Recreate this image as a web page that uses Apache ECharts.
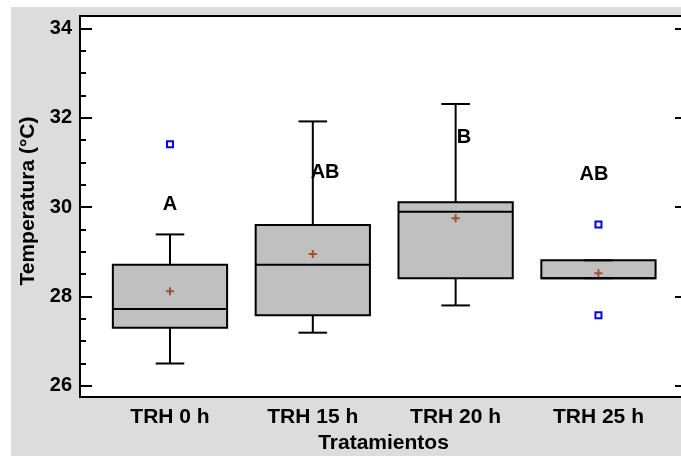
<!DOCTYPE html>
<html>
<head>
<meta charset="utf-8">
<script src="https://cdn.jsdelivr.net/npm/echarts@6/dist/echarts.min.js"></script>
<style>
    html, body { margin: 0; padding: 0; background: #fff; }
    #chart { width: 681px; height: 456px; }
</style>
</head>
<body>
<div id="chart"></div>
<script>
    // box statistics per treatment
    const categories = ['TRH 0 h', 'TRH 15 h', 'TRH 20 h', 'TRH 25 h'];
    const whiskerLow = [26.5, 27.19, 27.8, 28.41];
    const q1 = [27.3, 27.58, 28.41, 28.41];
    const median = [27.72, 28.71, 29.9, 28.41];
    const q3 = [28.71, 29.6, 30.11, 28.81];
    const whiskerHigh = [29.39, 31.92, 32.31, 28.81];
    const means = [28.12, 28.95, 29.75, 28.52];
    const outliers = [[1, 31.41], [4, 29.61], [4, 27.58]];

    // significance letters
    const groupLetters = ['A', 'AB', 'B', 'AB'];
    const letterX = [1.0, 2.086, 3.059, 3.969];
    const letterY = [30.07, 30.77, 31.55, 30.73];

    // y ticks
    const majorTicks = [26, 28, 30, 32, 34];
    const minorTicks = [26.5, 27, 27.5, 28.5, 29, 29.5, 30.5, 31, 31.5, 32.5, 33, 33.5];

    const FONT = '"Liberation Sans", Arial, sans-serif';
    const txt = { fontFamily: FONT, fontWeight: 'bold', fontSize: 20, color: '#000' };
    const txtBig = Object.assign({}, txt, { fontSize: 21 });
    const black2 = { color: '#000', width: 2 };

    const boxData = categories.map((c, i) => [i + 1, whiskerLow[i], q1[i], median[i], q3[i], whiskerHigh[i]]);
    const meanData = means.map((m, i) => [i + 1, m]);
    const letterData = groupLetters.map((l, i) => [letterX[i], letterY[i]]);

    function renderBox(params, api) {
        const x = api.value(0);
        const p = (k) => api.coord([x, api.value(k)]);
        const lo = p(1), b1 = p(2), md = p(3), b3 = p(4), hi = p(5);
        const halfBox = api.size([0.8, 0])[0] / 2;
        const halfCap = api.size([0.2, 0])[0] / 2;
        const cx = lo[0];
        const st = { stroke: '#000', lineWidth: 2 };
        const line = (x1, y1, x2, y2) => ({ type: 'line', shape: { x1, y1, x2, y2 }, style: st });
        return {
            type: 'group',
            children: [
                line(cx, hi[1], cx, b3[1]),
                line(cx, b1[1], cx, lo[1]),
                {
                    type: 'rect',
                    shape: { x: cx - halfBox, y: b3[1], width: 2 * halfBox, height: b1[1] - b3[1] },
                    style: { fill: '#c0c0c0', stroke: '#000', lineWidth: 2 }
                },
                line(cx - halfBox, md[1], cx + halfBox, md[1]),
                line(cx - halfCap, hi[1], cx + halfCap, hi[1]),
                line(cx - halfCap, lo[1], cx + halfCap, lo[1])
            ]
        };
    }

    function renderLetter(params, api) {
        const pt = api.coord([api.value(0), api.value(1)]);
        return {
            type: 'text',
            x: pt[0],
            y: pt[1],
            style: {
                text: groupLetters[params.dataIndex],
                fontFamily: FONT, fontWeight: 'bold', fontSize: 20,
                fill: '#000', align: 'center', verticalAlign: 'middle'
            }
        };
    }

    const yBase = {
        type: 'value', min: 25.75, max: 34.28,
        splitLine: { show: false }, axisLine: { show: false }
    };

    const chart = echarts.init(document.getElementById('chart'));
    chart.setOption({
        animation: false,
        graphic: [{
            type: 'rect', z: -10, silent: true,
            shape: { x: 11, y: 7, width: 670, height: 449 },
            style: { fill: '#dcdcdc' }
        }],
        grid: {
            left: 80, top: 16, width: 607, height: 381,
            show: true, backgroundColor: '#fff', borderColor: '#000', borderWidth: 2,
            containLabel: false, outerBoundsMode: 'none'
        },
        xAxis: {
            type: 'value', min: 0.37, max: 4.62,
            splitLine: { show: false }, axisLine: { show: false }, axisTick: { show: false },
            axisLabel: Object.assign({
                customValues: [1, 2, 3, 4],
                formatter: (v) => Number.isInteger(v) ? (categories[v - 1] || '') : '',
                margin: 10
            }, txtBig),
            name: 'Tratamientos', nameLocation: 'middle', nameGap: 35,
            nameTextStyle: txtBig
        },
        yAxis: [
            Object.assign({}, yBase, {
                position: 'left',
                axisTick: { customValues: majorTicks, inside: true, length: 12, lineStyle: black2 },
                axisLabel: Object.assign({ customValues: majorTicks, margin: 8 }, txt),
                name: 'Temperatura (°C)', nameLocation: 'middle', nameRotate: 90, nameGap: 34,
                nameTextStyle: Object.assign({ padding: [0, 0, 0, 11] }, txtBig)
            }),
            Object.assign({}, yBase, {
                position: 'left',
                axisTick: { customValues: minorTicks, inside: true, length: 6, lineStyle: black2 },
                axisLabel: { show: false }
            }),
            Object.assign({}, yBase, {
                position: 'right',
                axisTick: { customValues: majorTicks, inside: true, length: 12, lineStyle: black2 },
                axisLabel: { show: false }
            })
        ],
        series: [
            {
                type: 'custom', name: 'box', renderItem: renderBox,
                encode: { x: 0, y: [1, 2, 3, 4, 5] }, data: boxData, z: 2
            },
            {
                type: 'scatter', name: 'mean', data: meanData, z: 3,
                symbol: 'path://M3,0H5V3H8V5H5V8H3V5H0V3H3Z', symbolSize: 8,
                itemStyle: { color: '#a0522d', opacity: 1 }
            },
            {
                type: 'scatter', name: 'outlier', data: outliers, z: 3,
                symbol: 'rect', symbolSize: 6,
                itemStyle: { color: '#fff', borderColor: '#0000ff', borderWidth: 2, opacity: 1 }
            },
            {
                type: 'custom', name: 'letters', renderItem: renderLetter,
                encode: { x: 0, y: 1 }, data: letterData, z: 4
            }
        ]
    });
</script>
</body>
</html>
